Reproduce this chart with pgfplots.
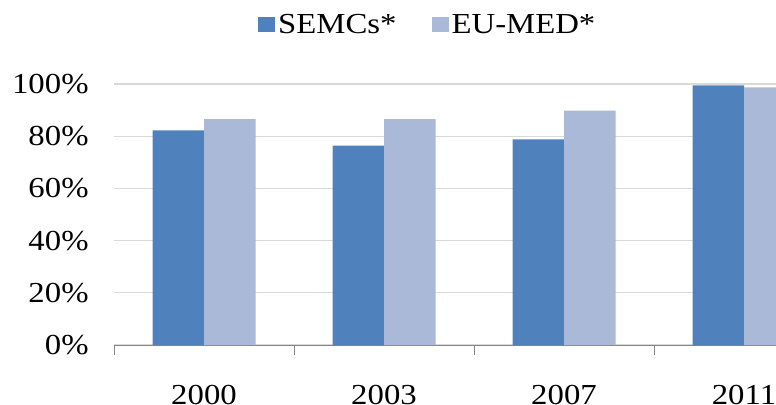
\documentclass[border=0pt]{standalone}
\usepackage{fontspec}
\setmainfont{Liberation Serif}[FakeStretch=1.13]
\usepackage{pgfplots}
\pgfplotsset{compat=1.18}
\definecolor{semc}{HTML}{4F81BD}
\definecolor{eumed}{HTML}{AAB9D7}
\definecolor{gridc}{HTML}{D9D9D9}
\definecolor{axisc}{HTML}{868686}
\begin{document}
\begin{tikzpicture}[x=1bp,y=1bp]
\useasboundingbox (0,0) rectangle (776,404);
\clip (0,0) rectangle (776,404);
\begin{axis}[
  at={(114bp,59bp)}, anchor=south west,
  scale only axis, width=720bp, height=261bp,
  xmin=-0.5, xmax=3.5, ymin=0, ymax=100,
  ybar=0pt, bar width=51.5bp,
  axis x line*=bottom, axis y line*=left,
  y axis line style={draw=none},
  x axis line style={draw=axisc, line width=1bp, -},
  xtick={0,1,2,3}, xticklabels={2000,2003,2007,2011},
  minor xtick={-0.5,0.5,1.5,2.5,3.5},
  major x tick style={draw=none},
  minor x tick style={draw=axisc, line width=1bp},
  minor tick length=10bp, tick align=outside,
  ytick={0,20,40,60,80,100}, yticklabels={0\%,20\%,40\%,60\%,80\%,100\%},
  major y tick style={draw=none},
  ymajorgrids, major grid style={draw=gridc, line width=1.2bp},
  every tick label/.append style={font=\fontsize{29bp}{31bp}\selectfont, inner sep=0pt},
  xticklabel style={anchor=north, yshift=-36bp},
  yticklabel style={anchor=east, xshift=-21bp},
  legend columns=2,
  legend style={draw=none, fill=none, inner sep=0pt, anchor=west, at={(0.2,1.228)},
    font=\fontsize{29bp}{31bp}\selectfont,
    nodes={inner sep=3bp},
    /tikz/every odd column/.append style={column sep=0bp},
    /tikz/every even column/.append style={column sep=32bp}},
  legend image code/.code={\fill[#1,draw=none] (0bp,-7.5bp) rectangle (17bp,7.5bp);},
]
\addplot[fill=semc, draw=none] coordinates {(0,82.2) (1,76.4) (2,78.8) (3,99.5)};
\addplot[fill=eumed, draw=none] coordinates {(0,86.5) (1,86.5) (2,89.8) (3,98.7)};
\legend{SEMCs*, EU-MED*}
\end{axis}
\end{tikzpicture}
\end{document}
